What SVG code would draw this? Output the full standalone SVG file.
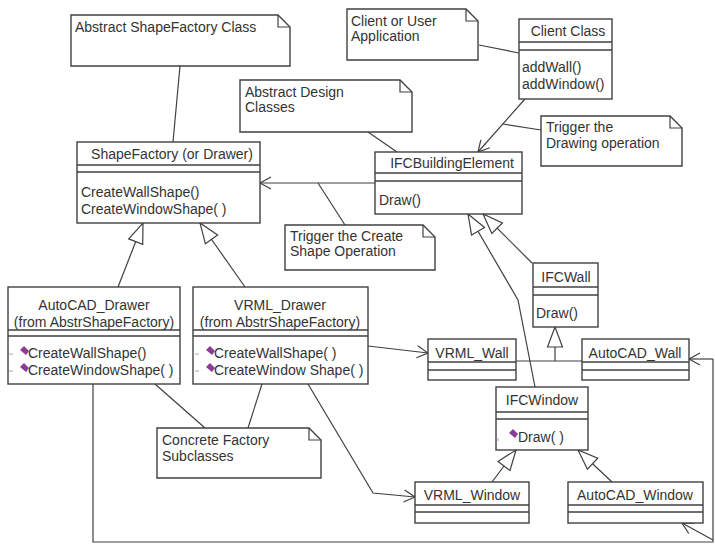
<svg xmlns="http://www.w3.org/2000/svg" width="715" height="544" viewBox="0 0 715 544">
<style>
.box{fill:#fff;stroke:#404040;stroke-width:1.4}
.note{fill:#fff;stroke:#404040;stroke-width:1.4}
.sep{stroke:#404040;stroke-width:1.4}
.ln{fill:none;stroke:#404040;stroke-width:1.2}
.t{font-family:"Liberation Sans",Arial,sans-serif;font-size:14px;fill:#333}
.m{text-anchor:middle}
.ico{fill:#8a3c98}
.dash{stroke:#aaa;stroke-width:1}
</style>
<defs>
<marker id="open" markerWidth="14" markerHeight="14" refX="12" refY="7" orient="auto" markerUnits="userSpaceOnUse">
<path d="M1,1 L12,7 L1,13" fill="none" stroke="#404040" stroke-width="1.2"/>
</marker>
<marker id="tri" markerWidth="22" markerHeight="18" refX="21" refY="9" orient="auto" markerUnits="userSpaceOnUse">
<path d="M1,1.5 L21,9 L1,16.5 Z" fill="#fff" stroke="#404040" stroke-width="1.2"/>
</marker>
</defs>

<g id="connectors">
<line class="ln" x1="180" y1="66" x2="173" y2="142"/>
<line class="ln" x1="479" y1="45" x2="519" y2="53"/>
<line class="ln" x1="368" y1="132" x2="397" y2="152"/>
<line class="ln" x1="541" y1="130" x2="503" y2="124"/>
<line class="ln" x1="345" y1="225" x2="318" y2="183"/>
<line class="ln" x1="205" y1="428" x2="155" y2="384"/>
<line class="ln" x1="248" y1="428" x2="262" y2="384"/>
<line class="ln" x1="525" y1="99" x2="478" y2="152" marker-end="url(#open)"/>
<line class="ln" x1="375" y1="183" x2="260" y2="183" marker-end="url(#open)"/>
<line class="ln" x1="368" y1="346" x2="428" y2="353" marker-end="url(#open)"/>
<polyline class="ln" points="308,384 373,493 415,497" marker-end="url(#open)"/>
<line class="ln" x1="713" y1="359" x2="689" y2="359" marker-end="url(#open)"/>
<polyline class="ln" points="93,384 93,542 713,542 713,359"/>
<line class="ln" x1="713" y1="540" x2="682" y2="523" marker-end="url(#open)"/>
<line class="ln" x1="118" y1="287" x2="143" y2="223" marker-end="url(#tri)"/>
<line class="ln" x1="245" y1="287" x2="200" y2="223" marker-end="url(#tri)"/>
<line class="ln" x1="532" y1="263" x2="483" y2="214" marker-end="url(#tri)"/>
<polyline class="ln" points="535,387 518,300 468,214" marker-end="url(#tri)"/>
<line class="ln" x1="516" y1="361" x2="582" y2="361"/>
<line class="ln" x1="555" y1="361" x2="555" y2="327" marker-end="url(#tri)"/>
<line class="ln" x1="492" y1="482" x2="516" y2="450" marker-end="url(#tri)"/>
<line class="ln" x1="612" y1="482" x2="578" y2="450" marker-end="url(#tri)"/>
</g>

<g id="note-abstract-shapefactory">
<path class="note" d="M71,15 H278 L290,27 V66 H71 Z"/>
<path class="ln" d="M278,15 V27 H290"/>
<text class="t" x="75" y="32">Abstract ShapeFactory Class</text>
</g>

<g id="note-client">
<path class="note" d="M347,9 H466 L478,21 V60 H347 Z"/>
<path class="ln" d="M466,9 V21 H478"/>
<text class="t" x="351" y="26">Client or User</text>
<text class="t" x="351" y="41">Application</text>
</g>

<g id="note-abstract-design">
<path class="note" d="M240,80 H400 L412,92 V132 H240 Z"/>
<path class="ln" d="M400,80 V92 H412"/>
<text class="t" x="245" y="97">Abstract Design</text>
<text class="t" x="245" y="112">Classes</text>
</g>

<g id="note-trigger-drawing">
<path class="note" d="M541,116 H670 L682,128 V166 H541 Z"/>
<path class="ln" d="M670,116 V128 H682"/>
<text class="t" x="546" y="132">Trigger the</text>
<text class="t" x="546" y="148">Drawing operation</text>
</g>

<g id="note-trigger-create">
<path class="note" d="M285,225 H423 L435,237 V270 H285 Z"/>
<path class="ln" d="M423,225 V237 H435"/>
<text class="t" x="290" y="241">Trigger the Create</text>
<text class="t" x="290" y="256">Shape Operation</text>
</g>

<g id="note-concrete">
<path class="note" d="M157,428 H309 L321,440 V478 H157 Z"/>
<path class="ln" d="M309,428 V440 H321"/>
<text class="t" x="162" y="445">Concrete Factory</text>
<text class="t" x="162" y="461">Subclasses</text>
</g>

<g id="client-class">
<rect class="box" x="519" y="19" width="93" height="80"/>
<line class="sep" x1="519" y1="42" x2="612" y2="42"/>
<line class="sep" x1="519" y1="50" x2="612" y2="50"/>
<text class="t m" x="568" y="36">Client Class</text>
<text class="t" x="522" y="72">addWall()</text>
<text class="t" x="522" y="89">addWindow()</text>
</g>

<g id="shapefactory">
<rect class="box" x="77" y="142" width="183" height="81"/>
<line class="sep" x1="77" y1="165" x2="260" y2="165"/>
<line class="sep" x1="77" y1="172" x2="260" y2="172"/>
<text class="t m" x="172" y="159">ShapeFactory (or Drawer)</text>
<text class="t" x="81" y="197">CreateWallShape()</text>
<text class="t" x="81" y="214">CreateWindowShape( )</text>
</g>

<g id="ifcbuildingelement">
<rect class="box" x="375" y="152" width="147" height="62"/>
<line class="sep" x1="375" y1="173" x2="522" y2="173"/>
<line class="sep" x1="375" y1="181" x2="522" y2="181"/>
<text class="t m" x="452" y="168">IFCBuildingElement</text>
<text class="t" x="379" y="205">Draw()</text>
</g>

<g id="autocad-drawer">
<rect class="box" x="8" y="287" width="172" height="97"/>
<line class="sep" x1="8" y1="330" x2="180" y2="330"/>
<line class="sep" x1="8" y1="336" x2="180" y2="336"/>
<text class="t m" x="94" y="310">AutoCAD_Drawer</text>
<text class="t m" x="94" y="327">(from AbstrShapeFactory)</text>
<line class="dash" x1="9" y1="354" x2="13" y2="354"/>
<polygon class="ico" points="20,350 24,346 29,351 26,355"/>
<text class="t" x="28" y="358">CreateWallShape()</text>
<line class="dash" x1="9" y1="371" x2="13" y2="371"/>
<polygon class="ico" points="20,367 24,363 29,368 26,372"/>
<text class="t" x="28" y="375">CreateWindowShape( )</text>
</g>

<g id="vrml-drawer">
<rect class="box" x="193" y="287" width="175" height="97"/>
<line class="sep" x1="193" y1="330" x2="368" y2="330"/>
<line class="sep" x1="193" y1="336" x2="368" y2="336"/>
<text class="t m" x="280" y="310">VRML_Drawer</text>
<text class="t m" x="280" y="327">(from AbstrShapeFactory)</text>
<line class="dash" x1="195" y1="354" x2="199" y2="354"/>
<polygon class="ico" points="206,350 210,346 215,351 212,355"/>
<text class="t" x="214" y="358">CreateWallShape( )</text>
<line class="dash" x1="195" y1="371" x2="199" y2="371"/>
<polygon class="ico" points="206,367 210,363 215,368 212,372"/>
<text class="t" x="214" y="375">CreateWindow Shape( )</text>
</g>

<g id="ifcwall">
<rect class="box" x="533" y="263" width="65" height="64"/>
<line class="sep" x1="533" y1="287" x2="598" y2="287"/>
<line class="sep" x1="533" y1="295" x2="598" y2="295"/>
<text class="t m" x="566" y="282">IFCWall</text>
<text class="t" x="536" y="318">Draw()</text>
</g>

<g id="vrml-wall">
<rect class="box" x="428" y="339" width="88" height="41"/>
<line class="sep" x1="428" y1="362" x2="516" y2="362"/>
<line class="sep" x1="428" y1="370" x2="516" y2="370"/>
<text class="t m" x="472" y="358">VRML_Wall</text>
</g>

<g id="autocad-wall">
<rect class="box" x="582" y="339" width="107" height="41"/>
<line class="sep" x1="582" y1="362" x2="689" y2="362"/>
<line class="sep" x1="582" y1="370" x2="689" y2="370"/>
<text class="t m" x="635" y="358">AutoCAD_Wall</text>
</g>

<g id="ifcwindow">
<rect class="box" x="496" y="387" width="92" height="63"/>
<line class="sep" x1="496" y1="412" x2="588" y2="412"/>
<line class="sep" x1="496" y1="419" x2="588" y2="419"/>
<text class="t m" x="542" y="405">IFCWindow</text>
<line class="dash" x1="498" y1="438" x2="498" y2="441"/>
<polygon class="ico" points="509,433 513,429 518,434 515,438"/>
<text class="t" x="518" y="442">Draw( )</text>
</g>

<g id="vrml-window">
<rect class="box" x="415" y="482" width="114" height="41"/>
<line class="sep" x1="415" y1="505" x2="529" y2="505"/>
<line class="sep" x1="415" y1="512" x2="529" y2="512"/>
<text class="t m" x="472" y="500">VRML_Window</text>
</g>

<g id="autocad-window">
<rect class="box" x="568" y="482" width="135" height="41"/>
<line class="sep" x1="568" y1="505" x2="703" y2="505"/>
<line class="sep" x1="568" y1="512" x2="703" y2="512"/>
<text class="t m" x="635" y="500">AutoCAD_Window</text>
</g>
</svg>
